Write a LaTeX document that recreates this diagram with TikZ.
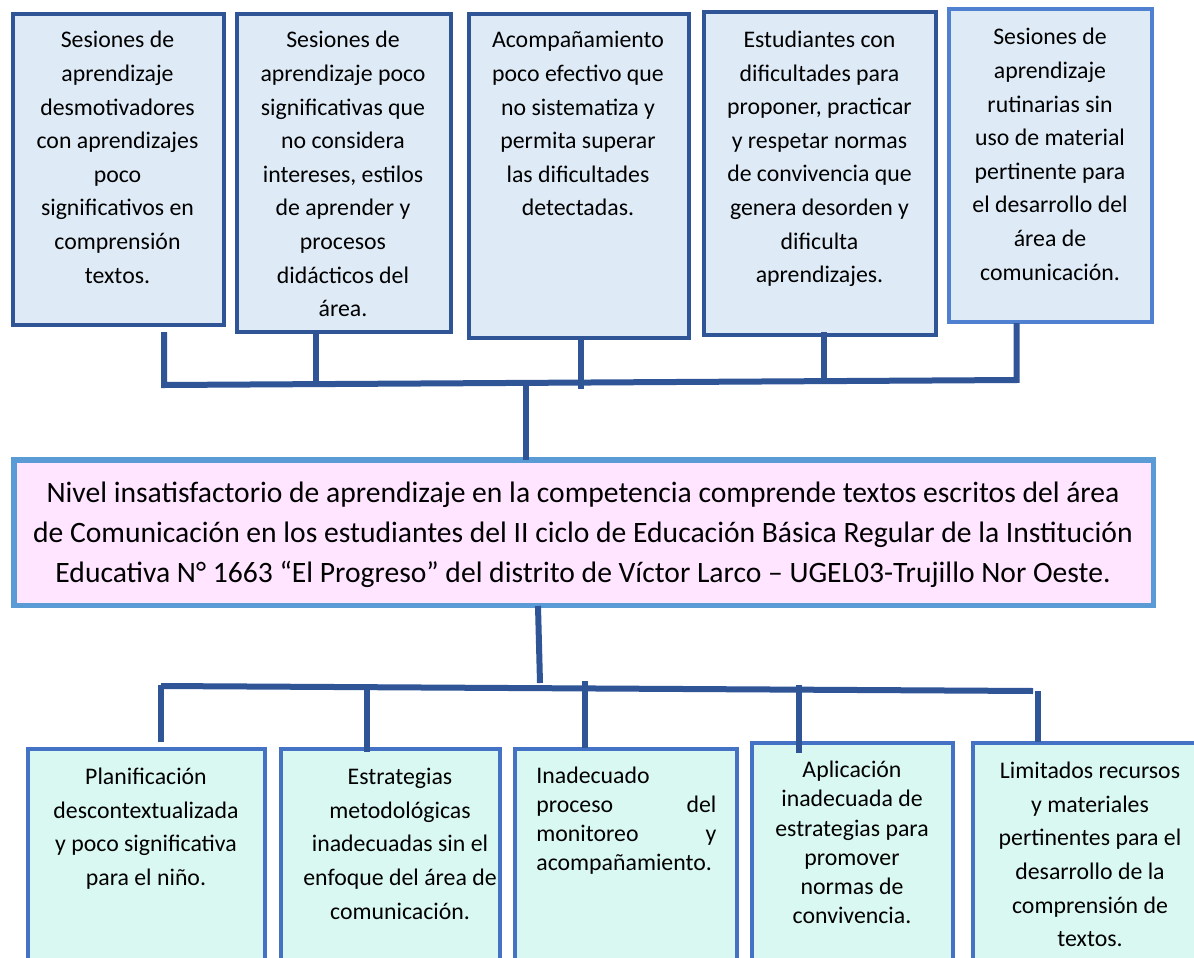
\documentclass[tikz,border=0pt]{standalone}
\usepackage{fontspec}
\setmainfont{Carlito}
\usetikzlibrary{fit}
\definecolor{topline}{HTML}{2F5597}
\definecolor{topfill}{HTML}{DEEBF7}
\definecolor{lightline}{HTML}{4F81D0}
\definecolor{midline}{HTML}{5B9BD5}
\definecolor{midfill}{HTML}{FFE5FF}
\definecolor{botline}{HTML}{4472C4}
\definecolor{botfill}{HTML}{D9F8F1}
\definecolor{connc}{HTML}{2F5597}
\begin{document}
\begin{tikzpicture}[x=0.5pt,y=-0.5pt,
  topbox/.style={draw=topline, fill=topfill, line width=2pt, inner sep=0pt},
  topboxlight/.style={topbox, draw=lightline},
  midbox/.style={draw=midline, fill=midfill, line width=2.65pt, inner sep=0pt},
  botbox/.style={draw=botline, fill=botfill, line width=2pt, inner sep=0pt},
  boxtext/.style={anchor=north, align=center, inner sep=0pt, font=\fontsize{11.9}{16.8}\selectfont},
  tighttext/.style={boxtext, font=\fontsize{11.9}{14.6}\selectfont},
  midtext/.style={anchor=north, align=center, inner sep=0pt, font=\fontsize{14.8}{20}\selectfont},
  conn/.style={draw=connc, line width=3pt, line join=miter}]
\useasboundingbox (0,0) rectangle (1194,958);
\fill[white] (0,0) rectangle (1194,958);
\newcommand{\fs}{\rule{0pt}{10pt}}
% top boxes
\node[topbox, fit={(12.5,14) (223.5,324.5)}] (b1) {};
\node[topbox, fit={(236.5,14) (451,332)}] (b2) {};
\node[topbox, fit={(468.5,14) (688.5,337.5)}] (b3) {};
\node[topbox, fit={(703.8,12) (935.6,335)}] (b4) {};
\node[topboxlight, fit={(948.8,9.3) (1152.3,322)}] (b5) {};
\node[boxtext] (t1) at (117.5,27.5) {\fs Sesiones de\\aprendizaje\\desmotivadores\\con aprendizajes\\poco\\significativos en\\comprensión\\textos.};
\node[boxtext] (t2) at (343,27.5) {\fs Sesiones de\\aprendizaje poco\\significativas que\\no considera\\intereses, estilos\\de aprender y\\procesos\\didácticos del\\área.};
\node[boxtext] (t3) at (578,27.5) {\fs Acompañamiento\\poco efectivo que\\no sistematiza y\\permita superar\\las dificultades\\detectadas.};
\node[boxtext] (t4) at (819.5,27) {\fs Estudiantes con\\dificultades para\\proponer, practicar\\y respetar normas\\de convivencia que\\genera desorden y\\dificulta\\aprendizajes.};
\node[boxtext] (t5) at (1050,24.5) {\fs Sesiones de\\aprendizaje\\rutinarias sin\\uso de material\\pertinente para\\el desarrollo del\\área de\\comunicación.};
% middle box
\node[midbox, fit={(14,460) (1153.3,605.5)}] (mid) {};
\node[midtext] (mt) at (583,475.7) {\rule{0pt}{13pt}Nivel insatisfactorio de aprendizaje en la competencia comprende textos escritos del área\\de Comunicación en los estudiantes del II ciclo de Educación Básica Regular de la Institución\\Educativa N° 1663 “El Progreso” del distrito de Víctor Larco – UGEL03-Trujillo Nor Oeste.};
% bottom boxes
\begin{scope}
\clip (0,0) rectangle (1194,958);
\node[botbox, fit={(27.5,748.7) (264.8,975)}] (c1) {};
\node[botbox, fit={(281,748.7) (499.5,975)}] (c2) {};
\node[botbox, fit={(514.7,749.3) (737.3,975)}] (c3) {};
\node[botbox, fit={(751.7,742.7) (953,975)}] (c4) {};
\node[botbox, fit={(973.3,742.7) (1210,975)}] (c5) {};
\end{scope}
\node[boxtext] (s1) at (146,764) {\fs Planificación\\descontextualizada\\y poco significativa\\para el niño.};
\node[boxtext] (s2) at (400,764.3) {\fs Estrategias\\metodológicas\\inadecuadas sin el\\enfoque del área de\\comunicación.};
\node[tighttext, anchor=north west, align=left, font=\fontsize{11.9}{14.45}\selectfont] (s3) at (536,763.3) {\fs Inadecuado\\\hbox to 90pt{proceso\hfil del}\\\hbox to 90pt{monitoreo\hfil y}\\acompañamiento.};
\node[tighttext] (s4) at (852,757.3) {\fs Aplicación\\inadecuada de\\estrategias para\\promover\\normas de\\convivencia.};
\node[boxtext] (s5) at (1090,758.3) {\fs Limitados recursos\\y materiales\\pertinentes para el\\desarrollo de la\\comprensión de\\textos.};
% upper connectors
\coordinate (u1top) at (164,332);
\coordinate (u1) at (164,385);
\coordinate (u5) at (1016.5,380);
\coordinate (u5top) at (1016.5,323);
\draw[conn] (u1top) -- (u1) -- (u5) -- (u5top);
\coordinate (u2top) at (316,333);
\coordinate (u2) at (316,384.2);
\draw[conn] (u2top) -- (u2);
\coordinate (u3top) at (581,339);
\coordinate (u3) at (581,389);
\draw[conn] (u3top) -- (u3);
\coordinate (u4top) at (823.5,332);
\coordinate (u4) at (823.5,381);
\draw[conn] (u4top) -- (u4);
\coordinate (uc) at (526,384);
\coordinate (ucb) at (526,460);
\draw[conn] (uc) -- (ucb);
% lower connectors
\coordinate (lc) at (538,606);
\coordinate (lcb) at (540,683);
\draw[conn] (lc) -- (lcb);
\coordinate (l1) at (161,686);
\coordinate (l5) at (1033,691);
\draw[conn] (l1) -- (l5);
\coordinate (l1b) at (161,742);
\draw[conn] (161,684.5) -- (l1b);
\coordinate (l2) at (367,686);
\coordinate (l2b) at (367,752);
\draw[conn] (l2) -- (l2b);
\coordinate (l3) at (584.6,681);
\coordinate (l3b) at (584.6,748);
\draw[conn] (l3) -- (l3b);
\coordinate (l4) at (798.7,685);
\coordinate (l4b) at (798.7,753);
\draw[conn] (l4) -- (l4b);
\coordinate (l5t) at (1037.5,691);
\coordinate (l5b) at (1037.5,741.5);
\draw[conn] (l5t) -- (l5b);
\end{tikzpicture}
\end{document}
